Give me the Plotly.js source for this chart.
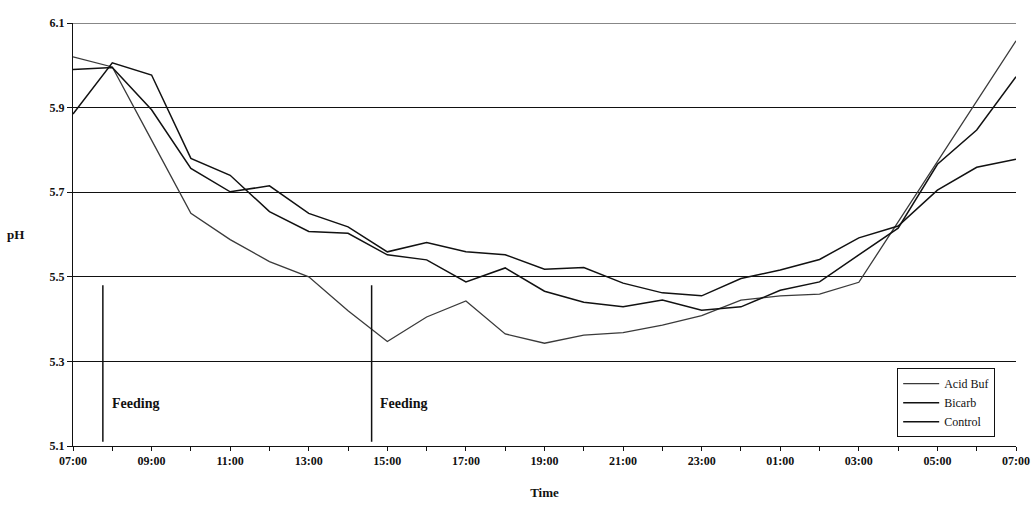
<!DOCTYPE html>
<html>
<head>
<meta charset="utf-8">
<script src="https://cdn.plot.ly/plotly-3.0.1.min.js"></script>
<style>
  html, body { margin: 0; padding: 0; background: #fff; }
  #chart { width: 1034px; height: 507px; }
</style>
</head>
<body>
<div id="chart"></div>
<script>
// Hours after 07:00
var hours = [0, 1, 2, 3, 4, 5, 6, 7, 8, 9, 10, 11, 12, 13, 14, 15, 16, 17, 18, 19, 20, 21, 22, 23, 24];
var tickLabels = ["07:00", "", "09:00", "", "11:00", "", "13:00", "", "15:00", "", "17:00", "", "19:00", "", "21:00", "", "23:00", "", "01:00", "", "03:00", "", "05:00", "", "07:00"];

var acidBuf = [6.02, 5.996, 5.823, 5.65, 5.588, 5.536, 5.50, 5.42, 5.347, 5.405, 5.443, 5.365, 5.343, 5.362, 5.368, 5.386, 5.408, 5.445, 5.455, 5.459, 5.487, 5.63, 5.772, 5.915, 6.058];
var bicarb  = [5.885, 6.006, 5.977, 5.78, 5.74, 5.654, 5.607, 5.603, 5.552, 5.54, 5.488, 5.521, 5.466, 5.44, 5.429, 5.445, 5.421, 5.429, 5.468, 5.488, 5.552, 5.615, 5.766, 5.847, 5.973];
var control = [5.99, 5.995, 5.895, 5.756, 5.701, 5.715, 5.65, 5.618, 5.559, 5.581, 5.559, 5.552, 5.518, 5.522, 5.485, 5.462, 5.455, 5.496, 5.516, 5.541, 5.592, 5.62, 5.705, 5.759, 5.778];

var yTicks = [5.1, 5.3, 5.5, 5.7, 5.9, 6.1];
var feedTimes = [0.76, 7.6];
var feedLabel = "Feeding";

var serif = "Liberation Serif, Times New Roman, serif";

var traces = [
  { x: hours, y: acidBuf, name: "Acid Buf", mode: "lines", line: { color: "#3a3a3a", width: 1.3 } },
  { x: hours, y: bicarb, name: "Bicarb", mode: "lines", line: { color: "#111111", width: 1.5 } },
  { x: hours, y: control, name: "Control", mode: "lines", line: { color: "#111111", width: 1.5 } }
];

var shapes = feedTimes.map(function (t) {
  return { type: "line", xref: "x", yref: "y", x0: t, x1: t, y0: 5.11, y1: 5.48,
           line: { color: "#111", width: 1.5 } };
});
// top gridline at the range edge
shapes.push({ type: "line", xref: "paper", yref: "y", x0: 0, x1: 1, y0: yTicks[yTicks.length - 1], y1: yTicks[yTicks.length - 1],
  line: { color: "#111", width: 1 } });

var annotations = feedTimes.map(function (t) {
  return { xref: "x", yref: "y", x: t + 0.17, y: 5.2, text: "<b>" + feedLabel + "</b>",
           showarrow: false, xanchor: "left", yanchor: "middle",
           font: { family: serif, size: 14, color: "#111" } };
});
annotations.push({ xref: "paper", yref: "paper", x: -0.061, y: 0.5, text: "<b>pH</b>",
  showarrow: false, xanchor: "center", yanchor: "middle",
  font: { family: serif, size: 13, color: "#111" } });

var layout = {
  width: 1034, height: 507,
  margin: { l: 73, r: 18, t: 23, b: 61 },
  paper_bgcolor: "#fff", plot_bgcolor: "#fff",
  font: { family: serif, color: "#111" },
  showlegend: true,
  legend: {
    x: 0.874, y: 0.184, xanchor: "left", yanchor: "top",
    bgcolor: "#fff", bordercolor: "#111", borderwidth: 1,
    font: { family: serif, size: 12, color: "#111" },
    tracegroupgap: 0, itemwidth: 36
  },
  xaxis: {
    range: [0, 24], tickmode: "array", tickvals: hours, ticktext: tickLabels.map(function (s) { return s ? "<b>" + s + "</b>" : ""; }),
    showgrid: false, zeroline: false, showline: true, linecolor: "#111", linewidth: 1,
    ticks: "outside", ticklen: 4, tickcolor: "#111",
    tickfont: { family: serif, size: 12, color: "#111" },
    title: { text: "<b>Time</b>", font: { family: serif, size: 13, color: "#111" }, standoff: 20 }
  },
  yaxis: {
    range: [5.1, 6.1], tickmode: "array", tickvals: yTicks,
    ticktext: yTicks.map(function (v) { return "<b>" + v.toFixed(1) + "</b>"; }),
    showgrid: true, gridcolor: "#111", gridwidth: 1, zeroline: false,
    showline: true, linecolor: "#111", linewidth: 1,
    ticks: "outside", ticklen: 5, tickcolor: "#111",
    tickfont: { family: serif, size: 12, color: "#111" }
  },
  shapes: shapes,
  annotations: annotations
};

Plotly.newPlot("chart", traces, layout, { displayModeBar: false, staticPlot: true });
</script>
</body>
</html>
